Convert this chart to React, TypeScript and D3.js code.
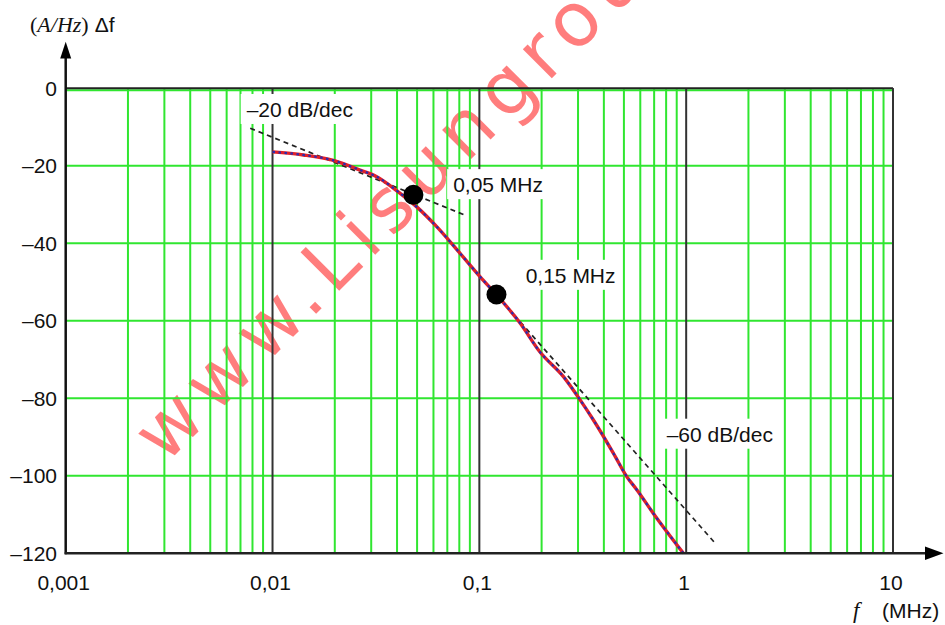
import React from "react";
import * as d3 from "d3";

const W = 945;
const H = 625;

// Measured curve (frequency in MHz, level in dB)
const curveFreq = [0.01, 0.0141, 0.0197, 0.0265, 0.0319, 0.0414, 0.0498, 0.0622, 0.0807, 0.1007, 0.121, 0.157, 0.196, 0.255, 0.307, 0.356, 0.445, 0.516, 0.577, 0.694, 0.97];
const curveDb = [-16.4, -17.2, -18.6, -21.1, -22.8, -27.1, -30.6, -35.7, -42.6, -48.6, -53.3, -60.5, -68.0, -74.4, -80.4, -85.6, -94.2, -100.2, -103.6, -109.7, -120];

// Asymptotes
const asym20Freq = [0.0078, 0.085];
const asym20Db = [-10.3, -32.7];
const asym60Freq = [0.121, 1.38];
const asym60Db = [-53.3, -117.4];

// Corner points
const cornerFreq = [0.048, 0.121];
const cornerDb = [-27.5, -53.2];

// Annotations
const annoText = ["\u201320 dB/dec", "0,05 MHz", "0,15 MHz", "\u201360 dB/dec"];
const annoFreq = [0.0075, 0.0747, 0.1675, 0.805];
const annoDb = [-7.4, -26.8, -50.2, -91.2];

// Axis ticks
const xTickValues = [0.001, 0.01, 0.1, 1, 10];
const xTickLabels = ["0,001", "0,01", "0,1", "1", "10"];
const yTickValues = [0, -20, -40, -60, -80, -100, -120];
const yTickLabels = ["0", "\u201320", "\u201340", "\u201360", "\u201380", "\u2013100", "\u2013120"];
const decades = [0.001, 0.01, 0.1, 1];
const minorMult = [2, 3, 4, 5, 6, 7, 8, 9];

const GREEN = "#30e630";

export default function App() {
  const x = d3.scaleLog().domain([0.001, 10]).range([65.7, 893]);
  const y = d3.scaleLinear().domain([-120, 0]).range([553.3, 88.3]);
  const x0 = x(0.001), x1 = x(10), yTop = y(0), yBot = y(-120);

  const line = d3
    .line<number>()
    .x((_, i) => x(curveFreq[i]))
    .y((d) => y(d))
    .curve(d3.curveMonotoneX);
  const curvePath = line(curveDb) || "";

  const minor: number[] = [];
  decades.forEach((d) => minorMult.forEach((m) => minor.push(d * m)));

  const sans = "'Liberation Sans', Arial, sans-serif";
  const serif = "'Liberation Serif', 'Times New Roman', serif";

  return (
    <svg width={W} height={H} style={{ position: "absolute", left: 0, top: 0, background: "#fff" }}>
      <rect x={0} y={0} width={W} height={H} fill="#ffffff" />
      {/* watermark */}
      <text
        transform="translate(165,465) rotate(-45)"
        fontFamily="'DejaVu Sans', Verdana, sans-serif"
        fontSize={75}
        letterSpacing={9.5}
        fill="#ff1414"
        opacity={0.55}
      >
        www.Lisungroup.com
      </text>

      {/* minor vertical grid */}
      {minor.map((v, i) => (
        <line key={"mv" + i} x1={x(v)} x2={x(v)} y1={yTop} y2={yBot} stroke={GREEN} strokeWidth={2} />
      ))}
      {/* horizontal grid */}
      {yTickValues.filter((v) => v !== 0 && v !== -120).map((v, i) => (
        <line key={"hg" + i} x1={x0} x2={x1} y1={y(v)} y2={y(v)} stroke={GREEN} strokeWidth={2} />
      ))}
      <line x1={x0} x2={x1} y1={yTop + 2} y2={yTop + 2} stroke={GREEN} strokeWidth={2} />
      {/* decade lines */}
      {xTickValues.slice(1).map((v, i) => (
        <line key={"dv" + i} x1={x(v)} x2={x(v)} y1={yTop} y2={yBot} stroke="#333" strokeWidth={2} />
      ))}
      <line x1={x0} x2={x1} y1={yTop} y2={yTop} stroke="#222" strokeWidth={2} />

      {/* annotations backgrounds + text */}
      {annoText.map((t, i) => (
        <g key={"an" + i}>
          <rect
            x={x(annoFreq[i]) - 6}
            y={y(annoDb[i]) - 23}
            width={t.length > 8 ? 120 : 102}
            height={30}
            fill="#ffffff"
          />
          <text x={x(annoFreq[i])} y={y(annoDb[i])} fontFamily={sans} fontSize={21} fill="#111">
            {t}
          </text>
        </g>
      ))}

      {/* asymptotes */}
      <line
        x1={x(asym20Freq[0])} y1={y(asym20Db[0])} x2={x(asym20Freq[1])} y2={y(asym20Db[1])}
        stroke="#222" strokeWidth={1.7} strokeDasharray="5,4"
      />
      <line
        x1={x(asym60Freq[0])} y1={y(asym60Db[0])} x2={x(asym60Freq[1])} y2={y(asym60Db[1])}
        stroke="#222" strokeWidth={1.7} strokeDasharray="5,4"
      />

      {/* curve */}
      <path d={curvePath} fill="none" stroke="#e0202a" strokeWidth={3.4} strokeLinejoin="round" />
      <path d={curvePath} fill="none" stroke="#2b2bb0" strokeWidth={2.2} strokeDasharray="2.5,3.5" />

      {/* corner points */}
      {cornerFreq.map((f, i) => (
        <circle key={"cp" + i} cx={x(f)} cy={y(cornerDb[i])} r={10} fill="#000" />
      ))}

      {/* axes */}
      <line x1={x1} x2={x1} y1={yTop} y2={yBot} stroke="#333" strokeWidth={2} />
      <line x1={x0} x2={x0} y1={yBot + 1} y2={56} stroke="#111" strokeWidth={2.5} />
      <path d={`M${x0},41.7 L${x0 - 5.5},58.5 L${x0 + 5.5},58.5 Z`} fill="#000" />
      <line x1={x0 - 1} x2={926} y1={yBot} y2={yBot} stroke="#222" strokeWidth={2.5} />
      <path d={`M943.5,${yBot} L925,${yBot - 6.8} L925,${yBot + 6.8} Z`} fill="#000" />

      {/* y tick labels */}
      {yTickValues.map((v, i) => (
        <text key={"yt" + i} x={57} y={y(v) + 7.5} textAnchor="end" fontFamily={sans} fontSize={21} fill="#111">
          {yTickLabels[i]}
        </text>
      ))}
      {/* x tick labels */}
      {xTickValues.map((v, i) => (
        <text key={"xt" + i} x={x(v) - 2} y={590} textAnchor="middle" fontFamily={sans} fontSize={21} fill="#111">
          {xTickLabels[i]}
        </text>
      ))}

      {/* axis titles */}
      <text x={30} y={32} fontSize={22} fill="#111">
        <tspan fontFamily={serif}>(</tspan>
        <tspan fontFamily={serif} fontStyle="italic">A/Hz</tspan>
        <tspan fontFamily={serif}>)</tspan>
        <tspan fontFamily={sans} fontSize={21} dx={6}>Δf</tspan>
      </text>
      <text y={618} fill="#111">
        <tspan x={853} fontFamily={serif} fontStyle="italic" fontSize={23}>f</tspan>
        <tspan x={882} fontFamily={sans} fontSize={21}>(MHz)</tspan>
      </text>
    </svg>
  );
}
